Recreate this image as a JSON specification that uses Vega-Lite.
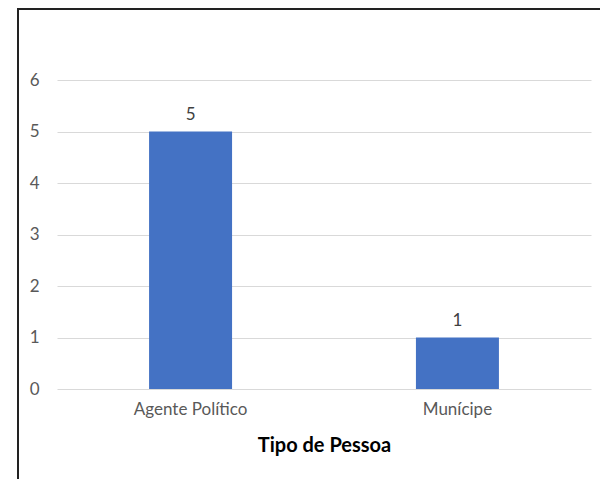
{
  "$schema": "https://vega.github.io/schema/vega-lite/v6.json",
  "width": 600,
  "height": 479,
  "autosize": {"type": "fit", "contains": "padding"},
  "padding": {"left": 18, "top": 9, "right": -4, "bottom": -4},
  "background": "white",
  "config": {
    "view": {"stroke": "#222222", "strokeWidth": 2},
    "font": "Lato"
  },
  "data": {
    "values": [
      {"tipo": "Agente Político", "n": 5},
      {"tipo": "Munícipe", "n": 1}
    ]
  },
  "encoding": {
    "x": {
      "field": "tipo",
      "type": "nominal",
      "sort": null,
      "scale": {"range": [39, 573], "paddingInner": 0.689, "paddingOuter": 0.345},
      "axis": {
        "title": "Tipo de Pessoa",
        "titleFontSize": 20,
        "titleFontWeight": "bold",
        "titleColor": "#000000",
        "titlePadding": 18,
        "labelFontSize": 17,
        "labelColor": "#595959",
        "labelAngle": 0,
        "labelPadding": 12,
        "domain": false,
        "ticks": false,
        "offset": -94
      }
    },
    "y": {
      "field": "n",
      "type": "quantitative",
      "scale": {"domain": [0, 6], "range": [380, 71], "nice": false},
      "axis": {
        "title": null,
        "values": [0, 1, 2, 3, 4, 5, 6],
        "grid": true,
        "gridColor": "#D9D9D9",
        "gridWidth": 1,
        "domain": false,
        "ticks": false,
        "labelFontSize": 17,
        "labelColor": "#595959",
        "labelPadding": 18,
        "offset": -39
      }
    }
  },
  "layer": [
    {"mark": {"type": "bar", "color": "#4472C4"}},
    {
      "mark": {"type": "text", "baseline": "bottom", "dy": -8, "fontSize": 17, "color": "#404040"},
      "encoding": {"text": {"field": "n", "type": "quantitative"}}
    }
  ]
}
